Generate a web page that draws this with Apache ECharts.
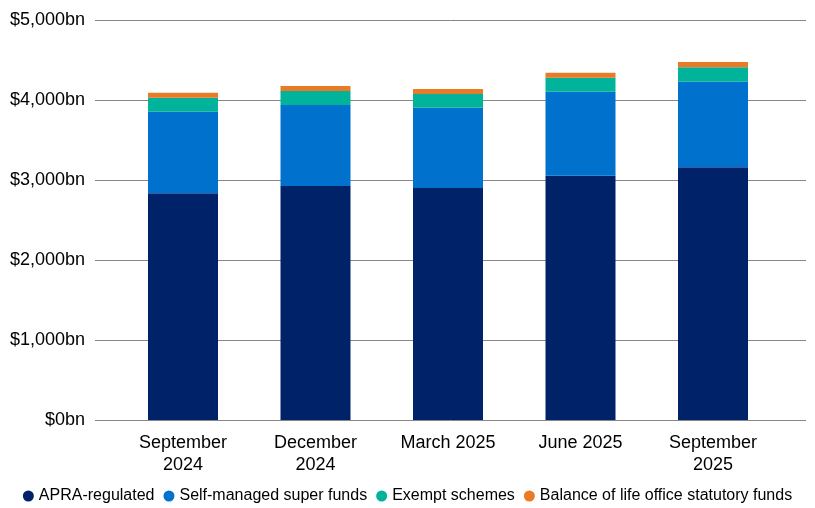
<!DOCTYPE html>
<html>
<head>
<meta charset="utf-8">
<title>Superannuation assets</title>
<script src="https://cdn.jsdelivr.net/npm/echarts@6/dist/echarts.min.js"></script>
<style>
  html, body { margin: 0; padding: 0; background: #fff; }
  #chart { width: 815px; height: 508px; }
</style>
</head>
<body>
<div id="chart"></div>
<script>
  // quarters on the x axis
  var quarters = ["September\n2024", "December\n2024", "March 2025", "June 2025", "September\n2025"];

  // $bn
  var apraRegulated = [2833, 2925, 2900, 3054, 3158];
  var selfManaged = [1021, 1012, 1004, 1050, 1071];
  var exemptSchemes = [175, 175, 171, 175, 179];
  var lifeOffice = [62, 63, 62, 63, 67];

  var yTicks = [0, 1000, 2000, 3000, 4000, 5000];

  var FONT = "'Liberation Sans', Arial, sans-serif";

  function money(v) {
    return "$" + Number(v).toLocaleString("en-US") + "bn";
  }

  function bar(name, data, color) {
    return {
      name: name,
      type: "bar",
      stack: "total",
      xAxisIndex: 1,
      yAxisIndex: 1,
      barWidth: 70,
      data: data,
      itemStyle: { color: color },
      emphasis: { disabled: true }
    };
  }

  var chart = echarts.init(document.getElementById("chart"), null, { renderer: "canvas" });

  chart.setOption({
    backgroundColor: "#ffffff",
    animation: false,
    textStyle: { fontFamily: FONT },
    legend: {
      top: 483,
      left: "center",
      icon: "circle",
      itemWidth: 11,
      itemHeight: 11,
      itemGap: 9,
      textStyle: { fontSize: 16, color: "#000", fontFamily: FONT },
      data: ["APRA-regulated", "Self-managed super funds", "Exempt schemes", "Balance of life office statutory funds"]
    },
    grid: [
      // gridlines and value labels
      { left: 95, right: 9, top: 20, bottom: 88 },
      // bars sit a little inside the gridlines
      { left: 116.75, right: 35.75, top: 20, bottom: 88 }
    ],
    xAxis: [
      { type: "category", gridIndex: 0, data: quarters, show: false },
      {
        type: "category",
        gridIndex: 1,
        data: quarters,
        axisLine: { show: false },
        axisTick: { show: false },
        axisLabel: {
          interval: 0,
          margin: 12,
          fontSize: 18,
          lineHeight: 22,
          color: "#000",
          fontFamily: FONT
        }
      }
    ],
    yAxis: [
      {
        type: "value",
        gridIndex: 0,
        min: yTicks[0],
        max: yTicks[yTicks.length - 1],
        interval: 1000,
        axisLine: { show: false },
        axisTick: { show: false },
        axisLabel: {
          margin: 10,
          fontSize: 18,
          color: "#000",
          fontFamily: FONT,
          formatter: money
        },
        splitLine: { lineStyle: { color: "#868686", width: 1 } }
      },
      {
        type: "value",
        gridIndex: 1,
        min: yTicks[0],
        max: yTicks[yTicks.length - 1],
        interval: 1000,
        show: false,
        splitLine: { show: false }
      }
    ],
    series: [
      bar("APRA-regulated", apraRegulated, "#002269"),
      bar("Self-managed super funds", selfManaged, "#0072CE"),
      bar("Exempt schemes", exemptSchemes, "#00B39A"),
      bar("Balance of life office statutory funds", lifeOffice, "#E97B27")
    ]
  });

  window.addEventListener("resize", function () {
    chart.resize();
  });
</script>
</body>
</html>
